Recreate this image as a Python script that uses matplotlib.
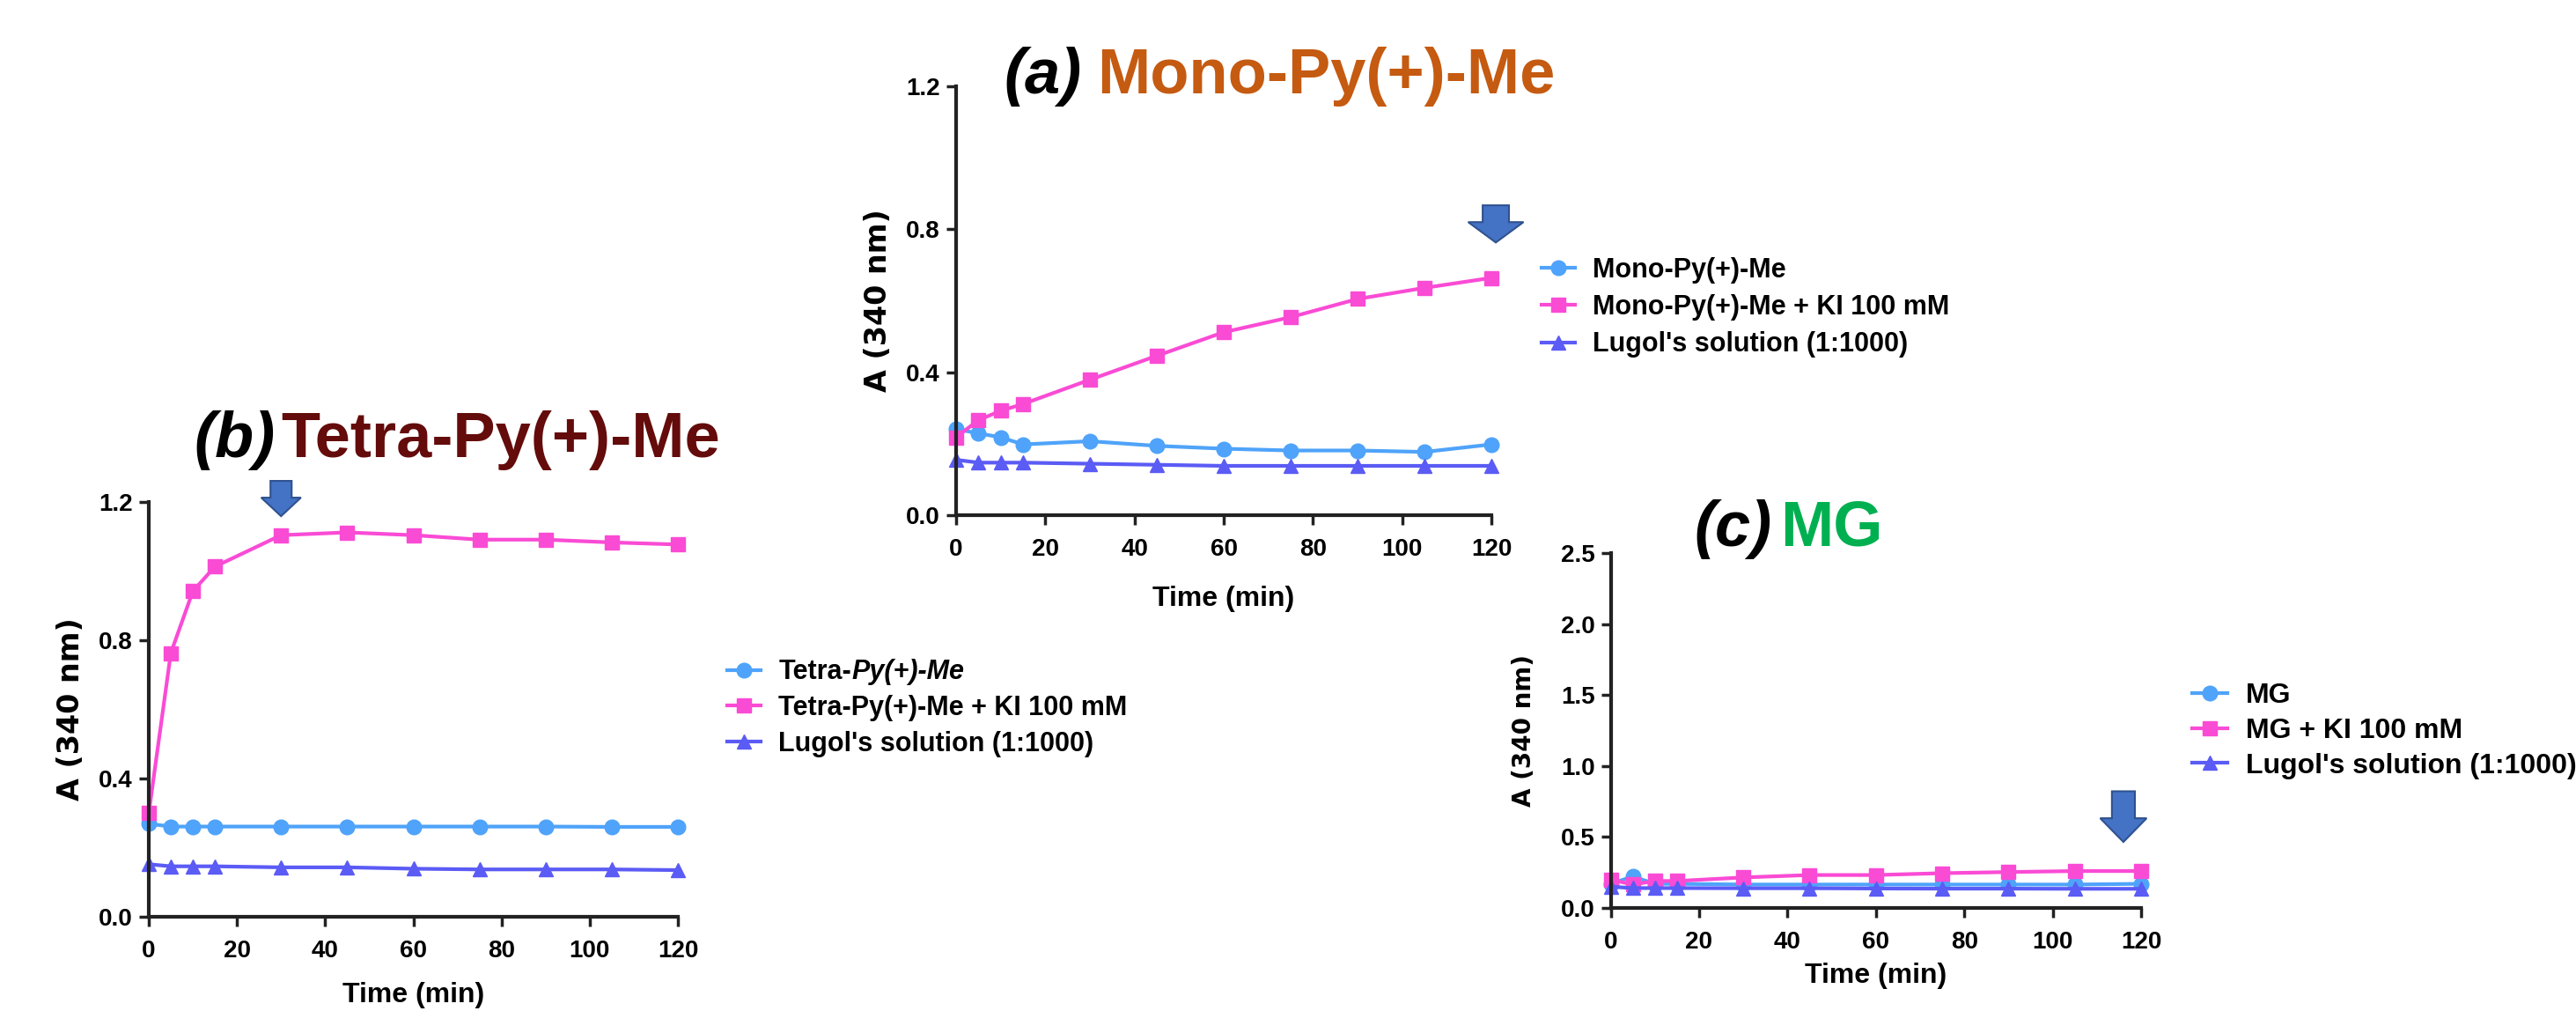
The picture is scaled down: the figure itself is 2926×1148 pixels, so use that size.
import matplotlib
matplotlib.use('Agg')
import matplotlib.pyplot as plt
from matplotlib import font_manager
from matplotlib.patches import FancyArrow

# ---- data ----
time = [0, 5, 10, 15, 30, 45, 60, 75, 90, 105, 120]

mono = [0.241, 0.229, 0.218, 0.198, 0.207, 0.194, 0.186, 0.181, 0.181, 0.177, 0.198]
mono_ki = [0.218, 0.266, 0.292, 0.311, 0.379, 0.446, 0.512, 0.554, 0.605, 0.636, 0.664]
mono_lugol = [0.155, 0.147, 0.147, 0.147, 0.144, 0.141, 0.138, 0.138, 0.138, 0.138, 0.138]

tetra = [0.269, 0.261, 0.261, 0.261, 0.261, 0.261, 0.261, 0.261, 0.261, 0.260, 0.260]
tetra_ki = [0.30, 0.763, 0.942, 1.013, 1.104, 1.112, 1.104, 1.091, 1.091, 1.083, 1.077]
tetra_lugol = [0.152, 0.146, 0.146, 0.146, 0.143, 0.143, 0.139, 0.137, 0.137, 0.137, 0.135]

mg = [0.17, 0.222, 0.17, 0.17, 0.165, 0.165, 0.165, 0.165, 0.165, 0.165, 0.17]
mg_ki = [0.20, 0.165, 0.19, 0.19, 0.215, 0.232, 0.232, 0.245, 0.253, 0.26, 0.26]
mg_lugol = [0.15, 0.14, 0.14, 0.14, 0.139, 0.139, 0.137, 0.136, 0.136, 0.135, 0.135]

labels_a = ['Mono-Py(+)-Me', 'Mono-Py(+)-Me + KI 100 mM', "Lugol's solution (1:1000)"]
labels_b = ['Tetra-', 'Tetra-Py(+)-Me + KI 100 mM', "Lugol's solution (1:1000)"]
labels_c = ['MG', 'MG + KI 100 mM', "Lugol's solution (1:1000)"]

x_ticks = [0, 20, 40, 60, 80, 100, 120]
y_ticks_ab = [0.0, 0.4, 0.8, 1.2]
y_ticks_c = [0.0, 0.5, 1.0, 1.5, 2.0, 2.5]

c_blue = '#4FA3FA'
c_pink = '#FA4BD5'
c_purple = '#5B5BF5'

_names = {f.name for f in font_manager.fontManager.ttflist}
NARROW = 'Liberation Sans Narrow' in _names
LEG_FONT = 'Liberation Sans Narrow' if NARROW else 'Liberation Sans'
LEG_SIZE = 25 if NARROW else 22

plt.rcParams['font.family'] = 'Liberation Sans'

W, H = 2926, 1148
fig = plt.figure(figsize=(W / 100, H / 100), dpi=100)


def px_axes(x0, x1, ytop, ybot):
    return fig.add_axes([x0 / W, 1 - ybot / H, (x1 - x0) / W, (ybot - ytop) / H])


def style_axes(ax, yticks, ylim):
    ax.set_xlim(0, 120)
    ax.set_ylim(*ylim)
    ax.set_xticks(x_ticks)
    ax.set_yticks(yticks)
    ax.set_yticklabels(['%.1f' % v for v in yticks])
    for s in ['top', 'right']:
        ax.spines[s].set_visible(False)
    for s in ['left', 'bottom']:
        ax.spines[s].set_linewidth(3)
        ax.spines[s].set_color('#222222')
    ax.tick_params(axis='y', length=8, width=2.5, pad=5, color='#222222')
    ax.tick_params(axis='x', length=8, width=2.5, pad=11, color='#222222')
    for t in ax.get_xticklabels() + ax.get_yticklabels():
        t.set_fontsize(20)
        t.set_fontweight('bold')


def plot_series(ax, a, b, c, labels):
    kw = dict(lw=3, ms=12, clip_on=False)
    ax.plot(time, a, color=c_blue, marker='o', label=labels[0], **kw)
    ax.plot(time, b, color=c_pink, marker='s', label=labels[1], **kw)
    ax.plot(time, c, color=c_purple, marker='^', label=labels[2], **kw)


def add_legend(ax, x_px, y_px, font, size, spacing):
    leg = ax.legend(loc='center left', bbox_to_anchor=(x_px / W, 1 - y_px / H),
                    bbox_transform=fig.transFigure, frameon=False, borderpad=0,
                    handlelength=1.25, handletextpad=0.65, labelspacing=spacing,
                    prop=dict(family=font, weight='bold', size=size))
    return leg


def add_arrow(ax, x, ytop, ytip, width, head_width, head_length):
    arr = FancyArrow(x, ytop, 0, ytip - ytop, width=width, head_width=head_width,
                     head_length=head_length, length_includes_head=True,
                     facecolor='#4472C4', edgecolor='#2F528F', lw=1.5,
                     clip_on=False, zorder=5)
    ax.add_patch(arr)


# ---- panel (a) ----
ax_a = px_axes(1086, 1694, 98, 585)
plot_series(ax_a, mono, mono_ki, mono_lugol, labels_a)
style_axes(ax_a, y_ticks_ab, (0, 1.2))
ax_a.set_xlabel('Time (min)', fontsize=23, fontweight='bold', va='center')
ax_a.xaxis.set_label_coords(0.5, -0.195)
ax_a.set_ylabel('A (340 nm)', fontsize=24, family='DejaVu Sans',
                fontweight='bold', va='center')
ax_a.yaxis.set_label_coords(-0.145, 0.5)
add_legend(ax_a, 1736, 349, LEG_FONT, LEG_SIZE, 0.4)
add_arrow(ax_a, 121, 0.867, 0.763, 5.9, 12.4, 0.057)

# ---- panel (b) ----
ax_b = px_axes(169, 770, 570, 1041)
plot_series(ax_b, tetra, tetra_ki, tetra_lugol, labels_b)
style_axes(ax_b, y_ticks_ab, (0, 1.2))
ax_b.set_xlabel('Time (min)', fontsize=23, fontweight='bold', va='center')
ax_b.xaxis.set_label_coords(0.5, -0.189)
ax_b.set_ylabel('A (340 nm)', fontsize=24, family='DejaVu Sans',
                fontweight='bold', va='center')
ax_b.yaxis.set_label_coords(-0.148, 0.5)
leg_b = add_legend(ax_b, 811, 804, LEG_FONT, LEG_SIZE, 0.35)
first = leg_b.get_texts()[0]
# italic part of the first legend entry, drawn after the legend has been laid out
ax_b.annotate('Py(+)-Me', xy=(1, 0), xycoords=first, ha='left', va='bottom',
              family=LEG_FONT, fontweight='bold', fontstyle='italic',
              fontsize=LEG_SIZE, zorder=10, annotation_clip=False)
add_arrow(ax_b, 30, 1.261, 1.159, 4.8, 9.0, 0.0535)

# ---- panel (c) ----
ax_c = px_axes(1829.5, 2432, 628, 1031)
plot_series(ax_c, mg, mg_ki, mg_lugol, labels_c)
style_axes(ax_c, y_ticks_c, (0, 2.5))
ax_c.set_xlabel('Time (min)', fontsize=23, fontweight='bold', va='center')
ax_c.xaxis.set_label_coords(0.5, -0.191)
ax_c.set_ylabel('A (340 nm)', fontsize=20, family='DejaVu Sans',
                fontweight='bold', va='center')
ax_c.yaxis.set_label_coords(-0.163, 0.5)
add_legend(ax_c, 2474, 830, 'Liberation Sans', 23, 0.3)
add_arrow(ax_c, 116, 0.822, 0.465, 5.2, 10.5, 0.167)

# ---- panel titles ----
titles = [((1140, 106), (1246, 106), '(a)', 'Mono-Py(+)-Me', '#C55A11'),
          ((220, 519), (319, 519), '(b)', 'Tetra-Py(+)-Me', '#640B0B'),
          ((1924, 620), (2022, 620), '(c)', 'MG', '#00B050')]
for p1, p2, tag, name, col in titles:
    fig.text(p1[0] / W, 1 - p1[1] / H, tag, fontsize=52, fontweight='bold',
             fontstyle='italic', color='black', va='baseline', ha='left')
    fig.text(p2[0] / W, 1 - p2[1] / H, name, fontsize=52, fontweight='bold',
             color=col, va='baseline', ha='left')

fig.savefig('out.png', dpi=100)
